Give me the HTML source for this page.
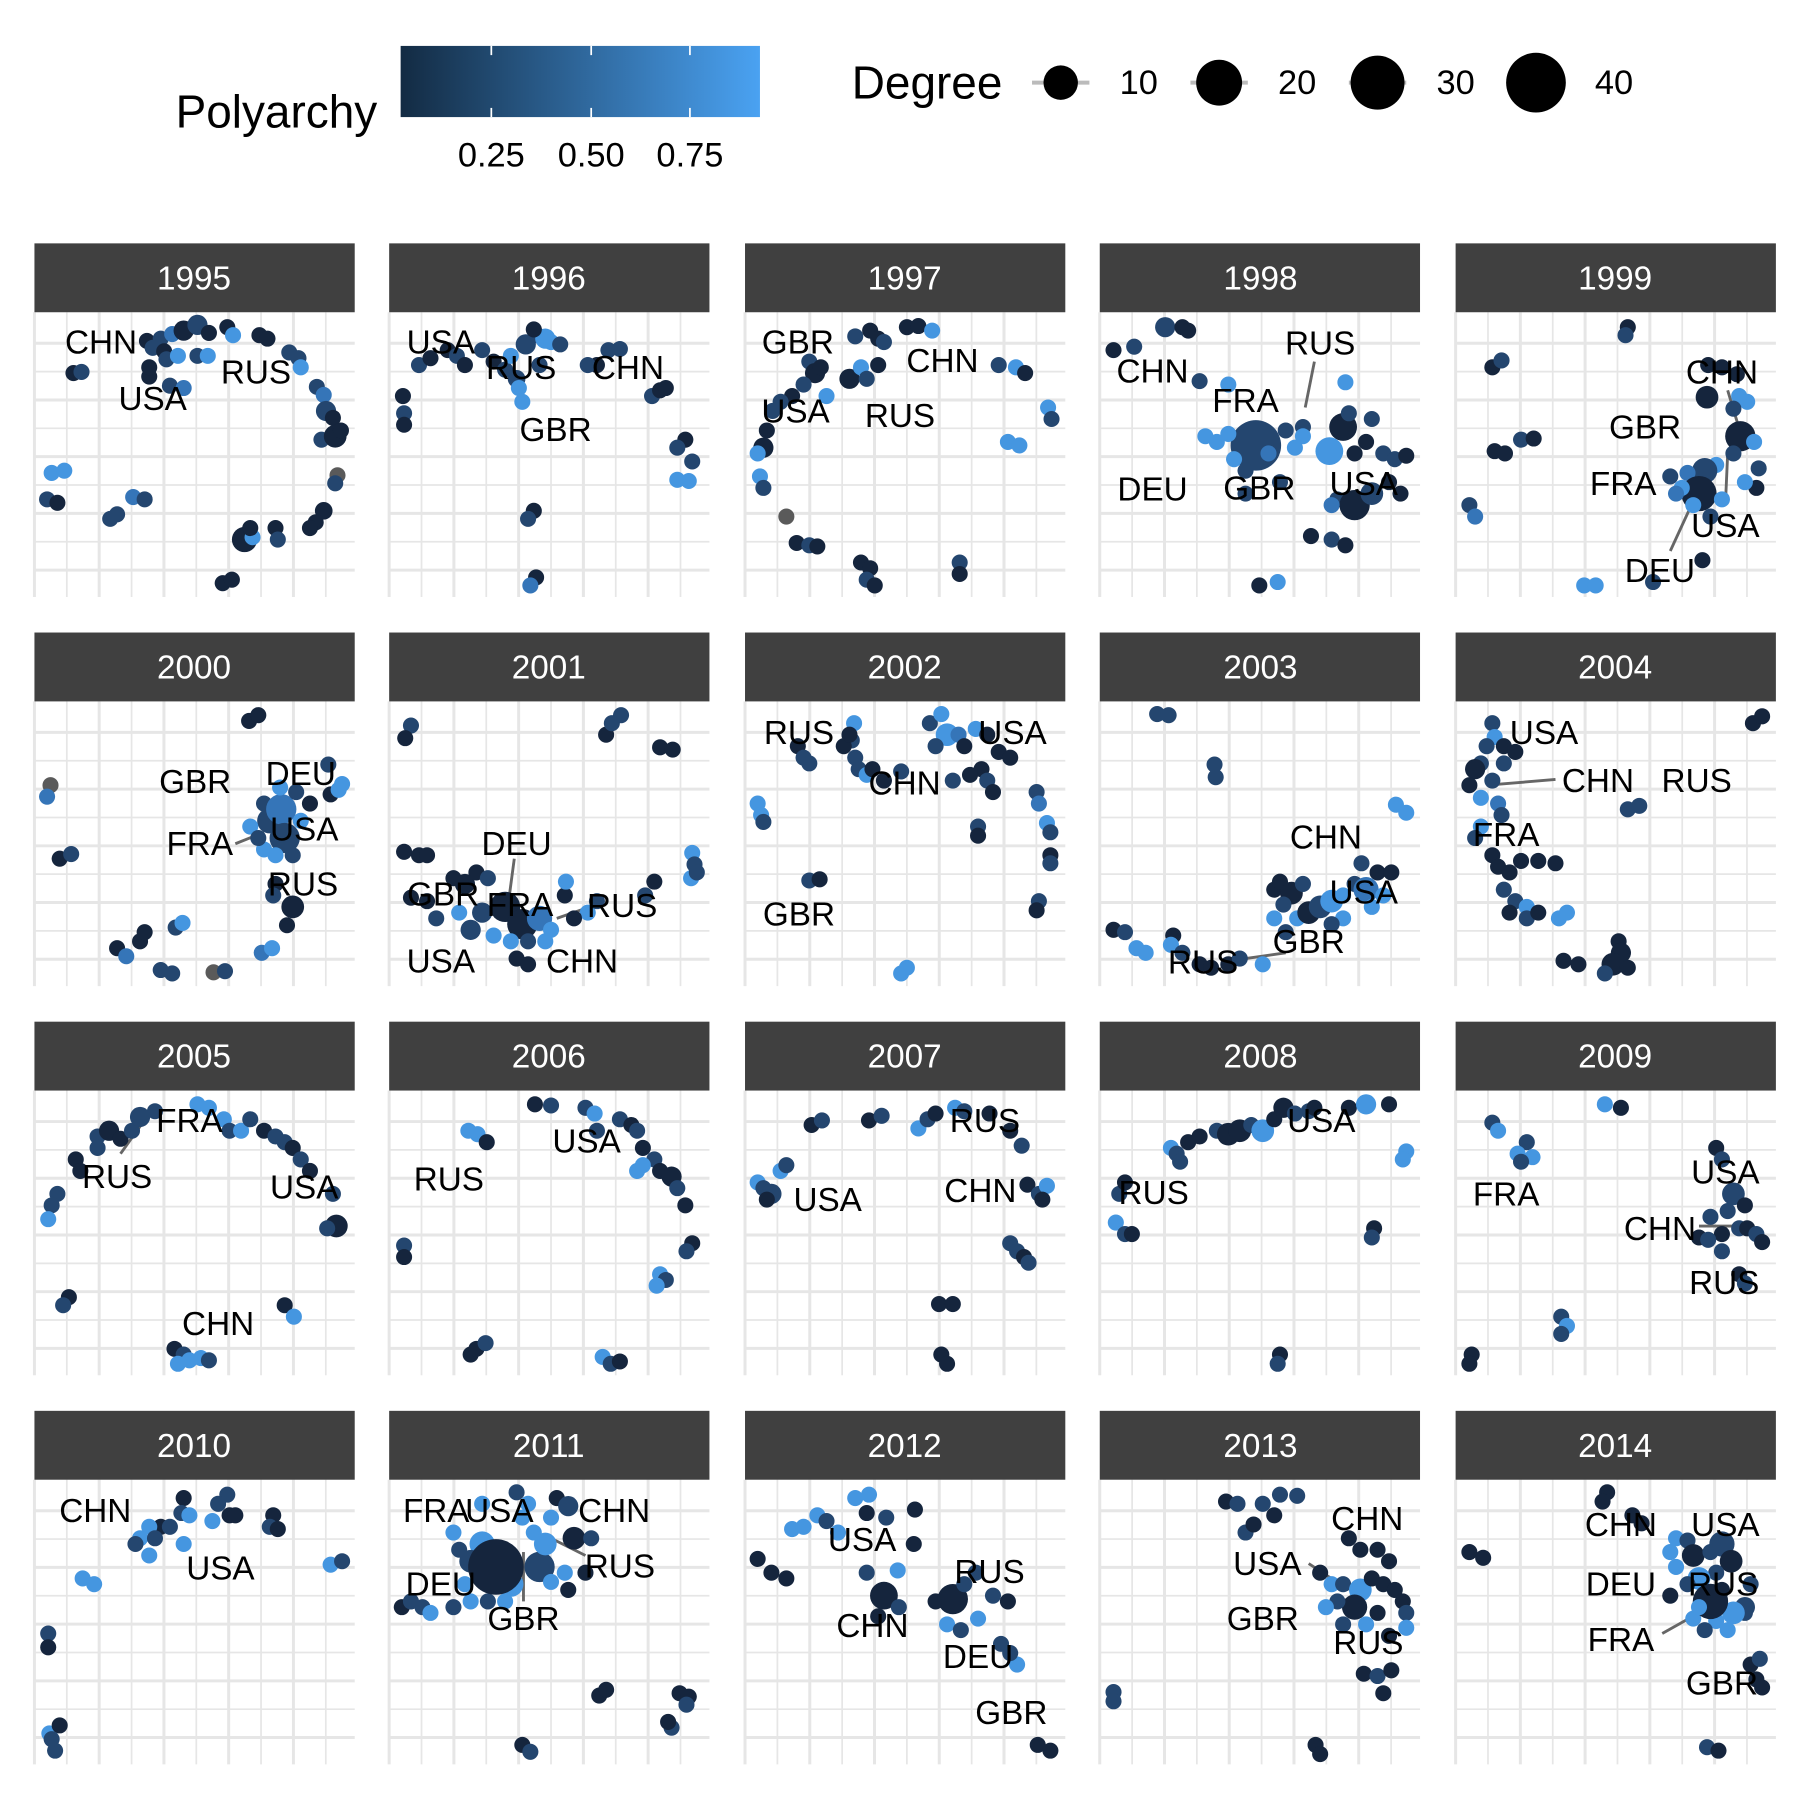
<!DOCTYPE html>
<html><head><meta charset="utf-8"><style>
html,body{margin:0;padding:0;background:#fff}
svg{display:block}
text{font-family:"Liberation Sans",Arial,sans-serif}
</style></head><body>
<svg id="s" xmlns="http://www.w3.org/2000/svg" width="1800" height="1800" viewBox="0 0 1568 1568">
<defs><linearGradient id="g" x1="0" x2="1" y1="0" y2="0"><stop offset="0" stop-color="#132B43"/><stop offset="1" stop-color="#4aa2f2"/></linearGradient></defs>
<rect width="1568" height="1568" fill="#fff"/>
<g id="grid"></g>
<g id="strips"></g>
<g id="segs" stroke="#666" stroke-width="2.5"></g>
<g id="pts"></g>
<!-- legend -->
<text x="153" y="111" font-size="40">Polyarchy</text>
<rect x="349" y="40" width="313" height="62" fill="url(#g)"/>
<g stroke="#fff" stroke-width="1.5"><line x1="428" y1="40" x2="428" y2="48"/><line x1="428" y1="94" x2="428" y2="102"/><line x1="515" y1="40" x2="515" y2="48"/><line x1="515" y1="94" x2="515" y2="102"/><line x1="601" y1="40" x2="601" y2="48"/><line x1="601" y1="94" x2="601" y2="102"/></g>
<g font-size="30" text-anchor="middle"><text x="428" y="145">0.25</text><text x="515" y="145">0.50</text><text x="601" y="145">0.75</text></g>
<text x="742" y="86" font-size="40">Degree</text>
<g stroke="#bbb" stroke-width="3.5"><line x1="899" y1="72" x2="949" y2="72"/><line x1="1037" y1="72" x2="1087" y2="72"/><line x1="1175" y1="72" x2="1225" y2="72"/></g>
<circle cx="924" cy="72" r="15" fill="#000"/><circle cx="1062" cy="72" r="20" fill="#000"/><circle cx="1200" cy="72" r="23.5" fill="#000"/><circle cx="1338" cy="72" r="26" fill="#000"/>
<g font-size="30" text-anchor="middle"><text x="992" y="82">10</text><text x="1130" y="82">20</text><text x="1268" y="82">30</text><text x="1406" y="82">40</text></g>
<!-- strip labels -->
<g font-size="29" text-anchor="middle" fill="#fff">
<text x="169" y="252">1995</text><text x="478" y="252">1996</text><text x="788" y="252">1997</text><text x="1098" y="252">1998</text><text x="1407" y="252">1999</text>
<text x="169" y="591">2000</text><text x="478" y="591">2001</text><text x="788" y="591">2002</text><text x="1098" y="591">2003</text><text x="1407" y="591">2004</text>
<text x="169" y="930">2005</text><text x="478" y="930">2006</text><text x="788" y="930">2007</text><text x="1098" y="930">2008</text><text x="1407" y="930">2009</text>
<text x="169" y="1269">2010</text><text x="478" y="1269">2011</text><text x="788" y="1269">2012</text><text x="1098" y="1269">2013</text><text x="1407" y="1269">2014</text>
</g>
<g id="labs" font-size="29" text-anchor="middle" fill="#000">
<text x="88" y="308">CHN</text><text x="223" y="334">RUS</text><text x="133" y="357">USA</text>
<text x="384" y="308">USA</text><text x="454" y="330">RUS</text><text x="547" y="330">CHN</text><text x="484" y="384">GBR</text>
<text x="695" y="308">GBR</text><text x="821" y="324">CHN</text><text x="693" y="368">USA</text><text x="784" y="372">RUS</text>
<text x="1150" y="309">RUS</text><text x="1004" y="333">CHN</text><text x="1085" y="359">FRA</text><text x="1004" y="436">DEU</text><text x="1097" y="435">GBR</text><text x="1188" y="431">USA</text>
<text x="1500" y="334">CHN</text><text x="1433" y="382">GBR</text><text x="1414" y="431">FRA</text><text x="1503" y="468">USA</text><text x="1446" y="507">DEU</text>
<text x="170" y="691">GBR</text><text x="262" y="684">DEU</text><text x="174" y="745">FRA</text><text x="265" y="732">USA</text><text x="264" y="780">RUS</text>
<text x="450" y="745">DEU</text><text x="386" y="789">GBR</text><text x="453" y="798">FRA</text><text x="542" y="799">RUS</text><text x="384" y="847">USA</text><text x="507" y="847">CHN</text>
<text x="696" y="648">RUS</text><text x="882" y="648">USA</text><text x="788" y="692">CHN</text><text x="696" y="806">GBR</text>
<text x="1155" y="739">CHN</text><text x="1188" y="787">USA</text><text x="1140" y="830">GBR</text><text x="1048" y="848">RUS</text>
<text x="1345" y="648">USA</text><text x="1392" y="690">CHN</text><text x="1478" y="690">RUS</text><text x="1312" y="737">FRA</text>
<text x="165" y="986">FRA</text><text x="102" y="1035">RUS</text><text x="265" y="1044">USA</text><text x="190" y="1163">CHN</text>
<text x="511" y="1004">USA</text><text x="391" y="1037">RUS</text>
<text x="858" y="986">RUS</text><text x="721" y="1055">USA</text><text x="854" y="1047">CHN</text>
<text x="1151" y="986">USA</text><text x="1005" y="1049">RUS</text>
<text x="1503" y="1031">USA</text><text x="1312" y="1050">FRA</text><text x="1446" y="1080">CHN</text><text x="1502" y="1127">RUS</text>
<text x="83" y="1326">CHN</text><text x="192" y="1376">USA</text>
<text x="380" y="1326">FRA</text><text x="435" y="1326">USA</text><text x="535" y="1326">CHN</text><text x="384" y="1390">DEU</text><text x="540" y="1374">RUS</text><text x="456" y="1420">GBR</text>
<text x="751" y="1351">USA</text><text x="862" y="1379">RUS</text><text x="760" y="1426">CHN</text><text x="852" y="1453">DEU</text><text x="881" y="1502">GBR</text>
<text x="1191" y="1333">CHN</text><text x="1104" y="1372">USA</text><text x="1100" y="1420">GBR</text><text x="1192" y="1441">RUS</text>
<text x="1412" y="1338">CHN</text><text x="1503" y="1338">USA</text><text x="1412" y="1390">DEU</text><text x="1501" y="1390">RUS</text><text x="1412" y="1438">FRA</text><text x="1500" y="1476">GBR</text>
</g>
</svg>
<script>
(function(){
var NS="http://www.w3.org/2000/svg";
function el(p,t,a){var e=document.createElementNS(NS,t);for(var k in a)e.setAttribute(k,a[k]);p.appendChild(e);return e;}
var cols=[30,339,649,958,1268],rows=[212,551,890,1229];
var grid=document.getElementById('grid'),strips=document.getElementById('strips');
rows.forEach(function(ry){cols.forEach(function(cx){
  el(strips,'rect',{x:cx,y:ry,width:279,height:60,fill:'#404040'});
  var top=ry+60,bot=ry+308;
  var i=0;
  for(var x=cx;x<=cx+279;x+=28.2){el(grid,'line',{x1:x,y1:top,x2:x,y2:bot,stroke:'#e6e6e6','stroke-width':(i%2?1.5:2.6)});i++;}
  i=0;
  for(var y=top+27;y<=bot-20;y+=24.7){el(grid,'line',{x1:cx,y1:y,x2:cx+279,y2:y,stroke:'#e6e6e6','stroke-width':(i%2?1.5:2.6)});i++;}
});});
var C={d:'#15253d',m:'#24466f',c:'#3575b8',b:'#4596e0',g:'#5a5a5a'};
var S="128,297,d;140,295,m;150,291,c;160,288,d,8;172,283,m,8;182,290,d;198,285,d;203,292,b;226,292,d;233,295,d;252,307,m;260,312,m;262,320,b;276,337,m;282,344,c;284,358,m,8;290,364,d;280,383,m;292,380,d,9;297,375,d;294,414,g;292,421,m;282,445,d,7;275,455,d;270,460,d;240,460,d;242,470,m;213,470,d,10;220,468,b;218,460,d;194,508,d;202,505,d;96,452,m;102,448,m;116,433,c;126,435,m;41,435,m;50,438,d;45,412,b;56,410,b;64,325,d;71,324,m;130,328,d;130,320,d;148,336,m;160,338,c;172,310,m;181,310,b;133,303,m;143,306,d;145,313,m;155,310,b;"
+"351,345,d;352,360,m;352,370,d;365,318,m;375,312,d;390,305,d;398,310,m;405,318,d;420,305,m;430,315,d;440,322,m;450,330,m,7;445,310,b;458,300,m,8;468,292,m;475,295,b,8;480,298,b;488,300,m;465,287,d;452,338,b;455,350,b;470,318,m;520,318,d;530,305,m;540,304,m;512,318,m;568,345,m;575,340,d;580,338,d;597,383,d;590,390,m;603,402,m;600,419,b;590,418,b;465,445,d;460,452,m;467,503,d;462,510,c;"
+"745,293,m;758,288,d;765,295,d;770,298,m;790,285,d;800,284,d;812,288,b;705,315,m;710,325,d,8;715,320,d;700,335,m;690,345,d;680,350,m;720,345,b;740,330,d,8;750,320,b;755,330,m;765,318,d;673,358,m;668,375,d;665,390,d,8;660,395,b;662,415,b;665,425,m;685,450,g;694,473,d;705,475,m;712,476,d;750,490,d;758,495,d;755,505,m;762,510,d;836,490,m;836,500,d;870,318,m;885,320,b;893,325,d;878,385,b;888,388,b;913,355,b;916,365,m;"
+"1015,285,m,8;1030,285,d;1035,288,d;970,305,d;988,302,m;1045,332,m;1070,335,b;1094,388,m,20;1070,378,b;1060,385,b;1075,400,b;1085,410,m;1105,395,c;1120,375,m;1128,390,b;1135,372,m;1135,380,b;1158,393,b,11;1170,372,d,11;1180,395,d;1190,385,d;1175,360,m;1195,365,m;1205,395,m;1215,400,m;1225,397,d;1165,435,m;1180,440,d,12;1195,430,m,9;1160,440,c;1210,420,d;1220,430,d;1172,333,b;1142,467,d;1160,470,m;1172,475,d;1097,510,d;1113,507,b;1050,380,b;1085,430,m;1115,420,m;"
+"1418,285,d;1416,292,m;1300,320,d;1308,314,m;1325,383,m;1336,382,d;1302,393,d;1311,395,d;1280,440,m;1285,450,c;1380,510,b;1390,510,b;1440,507,m;1483,488,d;1488,318,d;1500,320,d;1515,345,b;1522,350,b;1487,346,d,9;1510,356,m;1516,380,d,12;1528,385,b;1510,395,m;1495,405,b;1485,410,m,10;1470,412,c;1480,430,d,14;1465,425,b;1475,440,b;1490,450,m;1500,435,b;1532,408,m;1530,425,d;1520,420,b;1455,415,m;1460,430,c;1513,326,d;"
+"44,684,g;41,694,c;52,748,d;62,744,m;102,826,d;110,833,c;122,820,d;126,812,d;153,808,m;159,804,b;140,845,m;150,848,m;186,847,g;196,846,m;217,628,d;225,623,d;286,666,m;288,692,d;298,683,b;295,688,b;230,700,m;235,715,m,10;245,705,c,12;248,730,m,12;230,740,b;240,745,b;255,745,m;262,715,b;218,720,b;225,730,m;240,770,d;238,780,m;255,790,d,9;250,806,d;228,830,c;237,826,b;270,700,d;258,690,m;244,686,b;"
+"358,632,m;353,643,d;528,640,d;533,630,m;541,623,m;575,651,d;586,653,d;352,742,d;365,745,d;372,745,d;358,782,d;372,785,d;380,800,m;395,765,d;405,770,d,8;415,760,d;425,765,m;400,795,b;410,810,m,8;420,795,m,8;440,790,d,12;455,805,d,12;470,800,c,10;480,810,b;430,815,b;445,820,b;460,820,m;475,820,b;450,835,d;460,840,d;492,780,d;493,768,b;512,795,b;520,785,m;500,800,d;570,768,d;562,780,m;603,743,b;605,753,m;602,765,b;607,760,m;"
+"660,700,b;663,710,b;665,716,m;744,630,b;742,645,m;735,650,d;745,660,m;740,640,d;748,670,m;755,675,b;760,670,d;770,680,d;785,672,m;695,650,d;700,660,m;705,665,m;810,630,m;820,622,b;825,640,b,9;815,650,m;835,640,c;840,650,d;850,635,b;860,640,d;870,655,d;880,660,d;855,670,d;845,675,d;860,680,m;830,680,m;865,690,d;852,720,m;852,728,d;903,690,m;905,700,c;912,717,b;915,725,m;915,745,d;915,752,m;905,785,m;903,793,d;705,767,m;714,766,d;785,848,b;790,843,b;"
+"1008,622,m;1018,623,m;1058,666,m;1059,677,m;1216,701,b;1225,708,b;970,810,d;980,812,m;990,826,b;998,830,b;1022,815,d;1020,823,b;1030,830,m;1045,840,d;1055,843,d;1070,840,d;1080,835,m;1100,840,b;1110,775,d;1115,768,d;1125,778,d,9;1135,770,m;1118,788,m;1130,800,b;1140,795,d,9;1150,790,m,9;1160,785,b,9;1170,780,b;1180,770,m;1190,775,c,10;1200,760,d;1212,760,d;1195,790,b;1170,800,b;1110,800,b;1120,812,m;1160,805,m;1205,780,b;1186,752,m;"
+"1527,630,d;1535,624,d;1300,630,m;1302,642,b;1295,650,m;1310,650,d;1320,655,d;1290,665,m;1285,670,d,8;1300,680,m;1280,684,d;1290,695,b;1310,665,m;1305,700,c;1308,710,m;1290,720,b;1285,730,m;1300,745,d;1305,755,d;1315,760,d;1325,750,d;1340,750,d;1355,752,d;1310,775,m;1320,785,m;1330,790,b;1315,795,d;1330,800,m;1358,800,b;1365,795,b;1418,705,m;1428,702,m;1410,820,d;1412,830,d,8;1405,840,d,9;1418,843,d;1398,848,m;1362,837,d;1375,840,d;1340,795,d;"
+"85,990,m;95,985,d,8;105,992,d;115,985,m;122,973,m,8;135,968,m;172,962,b;182,965,b;195,975,b;200,985,m;210,985,b;218,975,m;230,985,d;240,990,m;248,995,m;255,1000,d;262,1010,m;270,1020,d;290,1040,m;293,1068,d,9;285,1070,m;66,1010,d;70,1020,d;50,1040,m;45,1050,m;42,1062,b;60,1130,d;55,1137,m;248,1137,d;256,1147,b;152,1175,d;160,1180,m;155,1188,b;165,1185,b;175,1183,b;182,1185,m;85,1000,m;"
+"408,985,b;416,988,b;424,995,d;466,962,d;480,963,m;510,965,m;518,970,b;520,985,m;540,975,m;550,980,d;555,985,m;560,1000,d;570,1010,m;555,1020,b;560,1015,b;575,1020,d;585,1025,d,8;590,1035,m;597,1050,d;603,1083,d;598,1090,m;575,1110,b;580,1115,m;572,1120,b;352,1085,m;352,1095,d;410,1180,d;415,1175,d;423,1170,m;525,1182,b;532,1188,m;540,1186,d;"
+"707,980,d;716,976,m;757,976,d;768,972,m;800,983,b;808,975,m;815,970,d;832,965,b;840,968,m;862,970,d;880,985,d;890,998,m;660,1030,b;665,1035,m;672,1040,m,8;680,1020,b;685,1015,m;668,1045,d;895,1032,d;905,1040,m;912,1033,b;908,1045,d;880,1083,m;886,1090,m;892,1095,d;896,1100,m;818,1136,d;830,1136,d;820,1180,d;825,1188,d;"
+"975,1040,m;980,1030,d;1020,1000,b;1025,1005,m;1035,995,d;1045,990,d;1060,985,m;1070,988,d,9;1080,985,d,9;1090,980,m;1100,985,b,9;1110,975,d;1118,965,d,8;1128,970,m;1140,968,m;1145,965,d;1175,965,d;1190,962,b,8;1210,962,d;1225,1003,b;1222,1010,b;1197,1070,d;1195,1078,m;972,1065,b;980,1075,m;986,1075,d;1115,1180,d;1113,1188,m;1028,1012,m;"
+"1300,978,m;1305,985,b;1398,962,b;1412,965,d;1330,995,m;1322,1005,b;1335,1008,b;1325,1012,m;1495,1000,d;1500,1010,m;1510,1040,m,9;1520,1050,d;1505,1055,m;1490,1060,m;1500,1075,d;1515,1070,m;1480,1078,d;1488,1080,m;1522,1070,d;1530,1075,m;1535,1082,d;1500,1090,m;1515,1110,d;1520,1118,m;1360,1147,m;1365,1155,b;1360,1162,m;1282,1180,d;1280,1188,d;"
+"198,1302,m;190,1310,m;200,1320,d;185,1325,b;205,1320,d;160,1305,d;158,1318,m;165,1320,b;140,1330,d;148,1330,m;130,1330,b;122,1340,b;135,1340,m;118,1345,m;130,1355,b;160,1345,b;238,1320,d;235,1330,m;242,1332,d;288,1363,b;298,1360,m;72,1375,b;82,1380,b;42,1423,m;42,1435,d;43,1510,b;52,1503,d;48,1525,m;45,1515,m;"
+"420,1345,b,10;410,1360,m,9;445,1380,b,10;405,1380,b;410,1395,b;425,1395,m;440,1395,b;470,1365,m,12;475,1345,b,9;465,1335,b;455,1322,b;485,1305,d;495,1312,m,8;480,1322,b;500,1340,d,9;492,1370,b;495,1385,d;510,1370,d;480,1378,b;515,1340,m;460,1310,b;450,1300,m;420,1310,b;395,1335,b;400,1350,m;432,1365,d,22;350,1400,d;358,1395,m;368,1400,m;375,1405,b;395,1400,m;522,1477,d;528,1472,d;592,1475,d;600,1478,d;598,1485,m;585,1505,m;582,1500,d;455,1520,d;462,1526,m;"
+"690,1332,b;700,1330,b;712,1320,b;720,1325,m;730,1335,b;745,1305,b;757,1302,b;755,1318,d;772,1322,m;797,1315,d;796,1345,d;782,1368,b;755,1370,m;770,1390,d,11;765,1408,d;783,1400,m;660,1358,d;672,1370,d;685,1375,d;815,1395,d;830,1393,d,12;840,1380,m;850,1370,m;865,1390,m;878,1395,d;825,1415,b;837,1420,m;852,1410,b;872,1432,m;886,1450,b;880,1440,m;904,1520,d;915,1525,d;"
+"1068,1308,d;1078,1310,m;1100,1310,m;1115,1302,m;1130,1303,m;1085,1335,m;1092,1328,d;1110,1320,d;1175,1340,d;1185,1350,d;1150,1370,d;1160,1380,b;1170,1380,m;1185,1385,b,9;1195,1375,d;1205,1380,d;1210,1360,d;1200,1350,d;1215,1385,d;1222,1395,d;1225,1405,m;1180,1400,d,10;1165,1395,m;1155,1400,b;1170,1415,m;1190,1415,b;1200,1405,d;1210,1425,d;1188,1458,d;1200,1460,m;1212,1455,d;1205,1475,d;1225,1418,b;970,1474,m;970,1482,m;1146,1520,d;1150,1528,d;"
+"1400,1300,d;1396,1308,d;1422,1320,d;1430,1327,d;1280,1352,d;1292,1357,d;1460,1340,b;1470,1342,m;1455,1352,b;1475,1355,d,9;1490,1352,m;1500,1345,m,10;1508,1360,d,9;1495,1370,m;1480,1375,b,9;1470,1380,m;1500,1385,d;1520,1400,m,8;1525,1380,m;1520,1405,m;1505,1420,b;1495,1412,b;1475,1410,b;1485,1420,m;1510,1405,b,9;1490,1395,d,14;1480,1400,b;1525,1450,d;1533,1445,m;1530,1463,d;1535,1470,d;1487,1522,m;1497,1525,d;1455,1390,d;1460,1365,b";
var pts=document.getElementById('pts');
S.split(';').forEach(function(p){if(!p)return;var a=p.split(',');var r=a[3]?(+a[3])*1.1:7;el(pts,'circle',{cx:a[0],cy:a[1],r:r,fill:C[a[2]]});});
var L=[[1137,355,1145,315],[1505,340,1517,380],[1503,440,1505,395],[1455,480,1478,430],[205,735,230,725],[448,748,444,778],[508,792,485,800],[1085,835,1120,830],[1355,679,1295,684],[130,970,105,1005],[1480,1068,1515,1068],[510,1355,480,1340],[456,1352,456,1395],[1140,1362,1175,1385],[1448,1423,1480,1405]];
var sg=document.getElementById('segs');
L.forEach(function(l){el(sg,'line',{x1:l[0],y1:l[1],x2:l[2],y2:l[3]});});
})();
</script>
</body></html>
